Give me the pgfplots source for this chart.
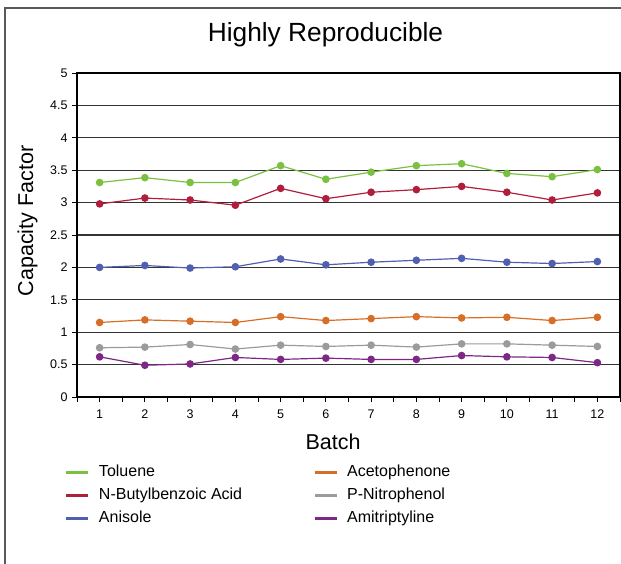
\documentclass[border=0pt]{standalone}
\usepackage{fontspec}
\setmainfont{Liberation Sans}
\usepackage{pgfplots}
\pgfplotsset{compat=1.18}

\definecolor{cToluene}{RGB}{122,193,66}
\definecolor{cButyl}{RGB}{176,30,60}
\definecolor{cAnisole}{RGB}{80,95,175}
\definecolor{cAceto}{RGB}{215,110,40}
\definecolor{cNitro}{RGB}{155,155,155}
\definecolor{cAmi}{RGB}{125,40,135}

\begin{document}
\begin{tikzpicture}[x=1pt, y=1pt]
    \useasboundingbox (0,0) rectangle (621,563);
    % outer chart frame (runs past the right and bottom edges)
    \draw[black!65, line width=1.3pt] (5,-10) -- (5,555) -- (640,555);

    \begin{axis}[
        at={(77pt,166pt)}, anchor=south west,
        scale only axis,
        width=543pt, height=324pt,
        xmin=0.5, xmax=12.5,
        ymin=0, ymax=5,
        xtick={1,...,12},
        minor xtick={0.5,1.5,...,12.5},
        ytick={0,0.5,...,5},
        yticklabels={0,0.5,1,1.5,2,2.5,3,3.5,4,4.5,5},
        xtick pos=bottom, ytick pos=left,
        tick align=outside,
        major tick length=5pt, minor tick length=5pt,
        tick style={black, line width=0.9pt},
        ymajorgrids,
        major grid style={black!80, line width=1.1pt},
        axis line style={black, line width=1.2pt},
        /pgf/number format/assume math mode=true,
        ticklabel style={font=\fontsize{12.5}{14}\selectfont},
        yticklabel style={xshift=-1pt},
        xticklabel style={yshift=-4pt},
        every axis plot/.append style={line width=1.2pt, mark=*, mark size=3.2pt},
        legend columns=2,
        legend cell align=left,
        legend style={
            at={(axis description cs:-0.028,-0.201)}, anchor=north west,
            draw=none, fill=none,
            font=\fontsize{16}{19}\selectfont,
            nodes={inner sep=0pt, text height=12pt, text depth=3.5pt},
            row sep=7.5pt,
            /tikz/every odd column/.append style={column sep=9pt},
            /tikz/every even column/.append style={column sep=71pt},
        },
        legend image code/.code={\draw[#1, mark=none, line width=3pt] (0pt,0pt) -- (22pt,0pt);},
    ]
        \addplot[color=cToluene] coordinates {
            (1,3.31) (2,3.385) (3,3.31) (4,3.31) (5,3.57) (6,3.36)
            (7,3.47) (8,3.57) (9,3.60) (10,3.45) (11,3.40) (12,3.51)
        };
        \addlegendentry{Toluene}
        \addplot[color=cAceto] coordinates {
            (1,1.15) (2,1.19) (3,1.17) (4,1.15) (5,1.24) (6,1.18)
            (7,1.21) (8,1.24) (9,1.22) (10,1.23) (11,1.18) (12,1.23)
        };
        \addlegendentry{Acetophenone}
        \addplot[color=cButyl] coordinates {
            (1,2.98) (2,3.07) (3,3.04) (4,2.96) (5,3.22) (6,3.06)
            (7,3.16) (8,3.20) (9,3.25) (10,3.16) (11,3.04) (12,3.15)
        };
        \addlegendentry{N-Butylbenzoic Acid}
        \addplot[color=cNitro] coordinates {
            (1,0.76) (2,0.77) (3,0.81) (4,0.74) (5,0.80) (6,0.78)
            (7,0.80) (8,0.77) (9,0.82) (10,0.82) (11,0.80) (12,0.78)
        };
        \addlegendentry{P-Nitrophenol}
        \addplot[color=cAnisole] coordinates {
            (1,2.00) (2,2.03) (3,1.99) (4,2.01) (5,2.13) (6,2.04)
            (7,2.08) (8,2.11) (9,2.14) (10,2.08) (11,2.06) (12,2.09)
        };
        \addlegendentry{Anisole}
        \addplot[color=cAmi] coordinates {
            (1,0.62) (2,0.49) (3,0.51) (4,0.61) (5,0.58) (6,0.60)
            (7,0.58) (8,0.58) (9,0.64) (10,0.62) (11,0.61) (12,0.53)
        };
        \addlegendentry{Amitriptyline}
    \end{axis}

    \node[anchor=base, font=\fontsize{26.3}{31}\selectfont] at (325.5,521.3) {Highly Reproducible};
    \node[anchor=base, font=\fontsize{21.5}{25}\selectfont] at (333,113.7) {Batch};
    \node[anchor=base, rotate=90, font=\fontsize{21.5}{25}\selectfont] at (33,342) {Capacity Factor};
\end{tikzpicture}
\end{document}
